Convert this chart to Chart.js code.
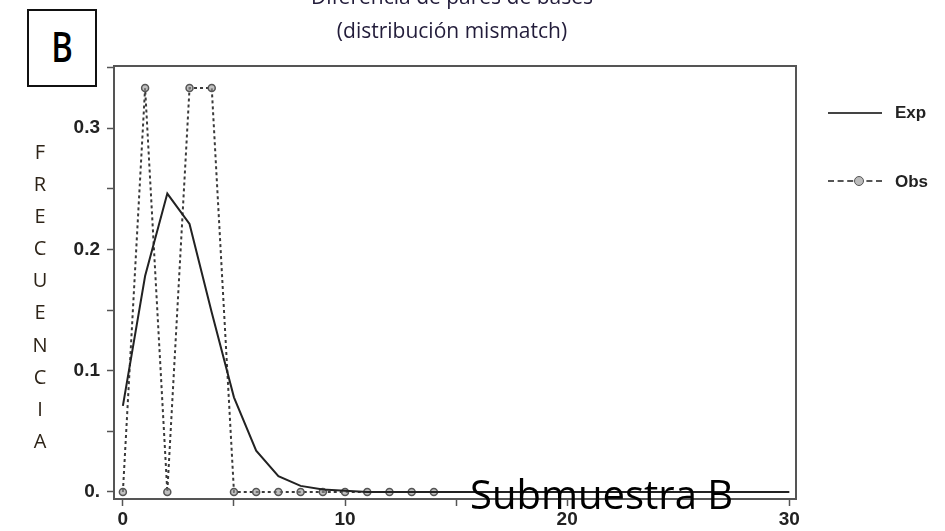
<!DOCTYPE html>
<html>
<head>
<meta charset="utf-8">
<script src="https://cdn.jsdelivr.net/npm/chart.js@4.4.1/dist/chart.umd.min.js"></script>
<style>
  html, body { margin: 0; padding: 0; background: #fff; }
  body { width: 945px; height: 531px; position: relative; overflow: hidden; }
  #chart { position: absolute; left: 0; top: 0; }
  .abs { position: absolute; white-space: nowrap; }
  .title { font-family: "Open Sans", sans-serif; font-size: 21px; line-height: 1; color: #221c3a; left: 452px; transform: translateX(-50%); }
  #boxB { left: 27px; top: 9px; width: 70px; height: 78px; box-sizing: border-box; border: 2px solid #111; background: #fff; }
  #boxB span { position: absolute; left: 0; width: 66px; top: 15px; text-align: center; font-family: "Open Sans", sans-serif; font-weight: 600; font-size: 41px; line-height: 1; color: #000; transform: scaleX(0.8); }
  #ylab { left: 20px; top: 136px; width: 40px; text-align: center; font-family: "Open Sans", sans-serif; font-weight: 500; font-size: 20px; line-height: 32.1px; color: #2e2418; white-space: normal; }
  #sub { left: 470px; top: 474px; font-family: "Open Sans", sans-serif; font-size: 40px; line-height: 1; color: #000; }
  .legtxt { font-family: "Liberation Sans", Arial, sans-serif; font-weight: bold; font-size: 17px; line-height: 1; color: #222; left: 895px; }
  .legline { left: 828px; width: 54px; height: 0; }
  #legDot { left: 854px; top: 176px; width: 10px; height: 10px; box-sizing: border-box; border-radius: 50%; border: 1.5px solid #555; background: #bbb; }
</style>
</head>
<body>
<canvas id="chart" width="945" height="531"></canvas>
<div class="abs title" style="top:-14px">Diferencia de pares de bases</div>
<div class="abs title" style="top:20px">(distribución mismatch)</div>
<div class="abs" id="boxB"><span>B</span></div>
<div class="abs" id="ylab">F<br>R<br>E<br>C<br>U<br>E<br>N<br>C<br>I<br>A</div>
<div class="abs legline" style="top:112px; border-top:2px solid #444;"></div>
<div class="abs legtxt" style="top:104px">Exp</div>
<div class="abs legline" style="top:180px; border-top:2px dashed #555;"></div>
<div class="abs" id="legDot"></div>
<div class="abs legtxt" style="top:173px">Obs</div>
<div class="abs" id="sub">Submuestra B</div>
<script>
// Pairwise differences (x categories)
const mismatchDiffs = [0,1,2,3,4,5,6,7,8,9,10,11,12,13,14,15,16,17,18,19,20,21,22,23,24,25,26,27,28,29,30];
// Expected frequency (solid line)
const expFreq = [0.071,0.178,0.246,0.221,0.148,0.078,0.034,0.013,0.005,0.002,0.001,0,0,0,0,0,0,0,0,0,0,0,0,0,0,0,0,0,0,0,0];
// Observed frequency (dashed line with circles), differences 0..14
const obsDiffs = [0,1,2,3,4,5,6,7,8,9,10,11,12,13,14];
const obsFreq = [0,0.333,0,0.333,0.333,0,0,0,0,0,0,0,0,0,0];
// Tick values and labels
const xTickValues = [0,5,10,15,20,25,30];
const xTickLabels = ['0','','10','','20','','30'];
const yTickValues = [0,0.05,0.1,0.15,0.2,0.25,0.3,0.35];
const yTickLabels = ['0.','','0.1','','0.2','','0.3',''];

const expData = mismatchDiffs.map((d, i) => ({x: d, y: expFreq[i]}));
const obsData = obsDiffs.map((d, i) => ({x: d, y: obsFreq[i]}));

const framePlugin = {
  id: 'frame',
  afterDraw(chart) {
    const {ctx, chartArea: a} = chart;
    ctx.save();
    ctx.strokeStyle = '#555';
    ctx.lineWidth = 2;
    ctx.beginPath();
    ctx.moveTo(a.left, a.top);
    ctx.lineTo(a.right, a.top);
    ctx.lineTo(a.right, a.bottom);
    ctx.stroke();
    ctx.restore();
  }
};

const tickFont = {family: '"Liberation Sans", Arial, sans-serif', size: 19, weight: 'bold'};

new Chart(document.getElementById('chart'), {
  type: 'line',
  data: {
    datasets: [
      {
        label: 'Exp',
        data: expData,
        borderColor: '#222',
        borderWidth: 2,
        pointRadius: 0,
        tension: 0,
        fill: false
      },
      {
        label: 'Obs',
        data: obsData,
        borderColor: '#3a3a3a',
        borderWidth: 2,
        borderDash: [3, 3],
        pointRadius: 3.5,
        pointBorderWidth: 1.5,
        pointBorderColor: '#555',
        pointBackgroundColor: 'rgba(150,150,150,0.6)',
        tension: 0,
        fill: false
      }
    ]
  },
  options: {
    responsive: false,
    animation: false,
    layout: { padding: { left: 0, top: 66, right: 149, bottom: 0 } },
    plugins: { legend: { display: false }, tooltip: { enabled: false }, title: { display: false } },
    scales: {
      x: {
        type: 'linear',
        position: 'bottom',
        min: -0.4,
        max: 30.3,
        afterBuildTicks: (s) => { s.ticks = xTickValues.map(v => ({value: v})); },
        afterFit: (s) => { s.height = 32; },
        grid: { drawOnChartArea: false, drawTicks: true, tickLength: 7, tickColor: '#555', tickWidth: 1.5 },
        border: { display: true, color: '#555', width: 2 },
        ticks: {
          autoSkip: false, maxRotation: 0, padding: 2, color: '#222', font: tickFont,
          callback: (v) => { const i = xTickValues.indexOf(v); return i >= 0 ? xTickLabels[i] : ''; }
        }
      },
      y: {
        type: 'linear',
        min: -0.0058,
        max: 0.3512,
        afterBuildTicks: (s) => { s.ticks = yTickValues.map(v => ({value: v})); },
        afterFit: (s) => { s.width = 114; },
        grid: { drawOnChartArea: false, drawTicks: true, tickLength: 7, tickColor: '#555', tickWidth: 1.5 },
        border: { display: true, color: '#555', width: 2 },
        ticks: {
          autoSkip: false, padding: 7, color: '#222', font: tickFont,
          callback: (v) => { const i = yTickValues.findIndex(t => Math.abs(t - v) < 1e-9); return i >= 0 ? yTickLabels[i] : ''; }
        }
      }
    }
  },
  plugins: [framePlugin]
});
</script>
</body>
</html>
